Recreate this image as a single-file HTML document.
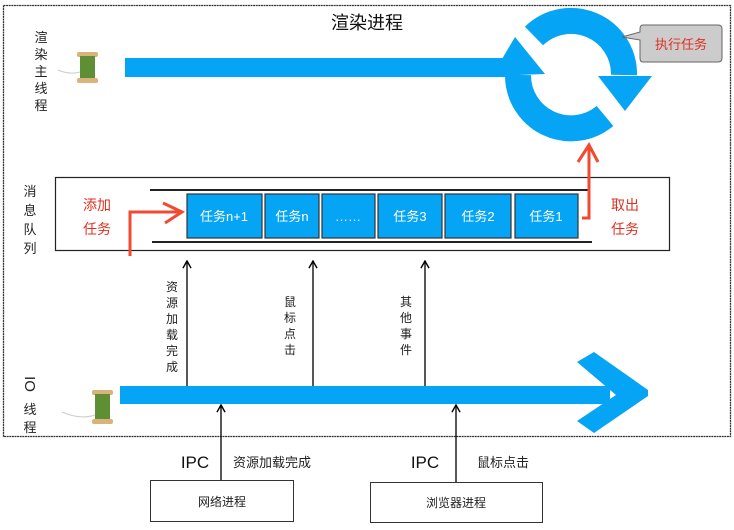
<!DOCTYPE html>
<html><head><meta charset="utf-8"><style>
html,body{margin:0;padding:0;background:#fff;}
body{width:734px;height:530px;position:relative;overflow:hidden;font-family:"Liberation Sans","Noto Sans CJK SC",sans-serif;}
</style></head><body>
<svg width="734" height="530" viewBox="0 0 734 530" xmlns="http://www.w3.org/2000/svg" style="position:absolute;left:0;top:0" font-family="Liberation Sans, Noto Sans CJK SC, sans-serif">
<defs>
<marker id="ah" viewBox="0 0 10 10" refX="9" refY="5" markerWidth="9" markerHeight="9" orient="auto" markerUnits="userSpaceOnUse"><path d="M1,0.5 L9,5 L1,9.5" fill="none" stroke="#000" stroke-width="1.6"/></marker>
</defs>
<rect x="3.5" y="5.5" width="727" height="431" fill="none" stroke="#333" stroke-width="1.3" stroke-dasharray="2,0.6"/>
<text x="367" y="29" font-size="18" text-anchor="middle" fill="#111">渲染进程</text>
<g font-size="13" fill="#222" text-anchor="middle">
<text x="41" y="42">渲</text><text x="41" y="59">染</text><text x="41" y="76">主</text><text x="41" y="93">线</text><text x="41" y="110">程</text>
<text x="30" y="196">消</text><text x="30" y="215">息</text><text x="30" y="234">队</text><text x="30" y="253">列</text>
<text x="30" y="414">线</text><text x="30" y="432">程</text>
</g>
<text x="0" y="0" font-size="15" fill="#222" text-anchor="middle" transform="translate(25,384) rotate(90)">IO</text>
<!-- spools -->
<g><rect x="77" y="52" width="21" height="5" rx="2" fill="#d9b47a"/><rect x="80" y="56" width="15" height="23" fill="#5f8f35"/><rect x="77" y="78" width="21" height="5" rx="2" fill="#d9b47a"/><path d="M80,72 Q70,75 58,70" stroke="#ccc" fill="none"/></g>
<g><rect x="92" y="390" width="21" height="5" rx="2" fill="#d9b47a"/><rect x="95" y="394" width="15" height="26" fill="#5f8f35"/><rect x="92" y="419" width="21" height="5" rx="2" fill="#d9b47a"/><path d="M95,415 Q80,420 62,412" stroke="#ccc" fill="none"/></g>
<!-- top bar -->
<rect x="125" y="58" width="395" height="19" fill="#06a4f5"/>
<!-- cycle -->
<path d="M534,36 A53,53 0 0 1 624,75" fill="none" stroke="#06a4f5" stroke-width="26"/>
<polygon points="598,76 652,76 625,111" fill="#06a4f5"/>
<path d="M605,116 A53,53 0 0 1 518,75" fill="none" stroke="#06a4f5" stroke-width="26"/>
<polygon points="492,76 545,74 515,37" fill="#06a4f5"/>
<!-- callout -->
<path d="M643,25 H718 Q722,25 722,29 V58 Q722,62 718,62 H643 Q640,62 640,58 V40 L622,37 L640,32 V29 Q640,25 643,25Z" fill="#ccc" stroke="#666" stroke-width="1"/>
<text x="681" y="49" font-size="13" fill="#e03020" text-anchor="middle">执行任务</text>
<!-- queue -->
<rect x="55.5" y="177.5" width="614" height="73" fill="none" stroke="#222" stroke-width="1.2"/>
<line x1="150" y1="190" x2="590" y2="190" stroke="#222" stroke-width="2"/>
<line x1="152" y1="242" x2="592" y2="242" stroke="#222" stroke-width="2"/>
<g fill="#06a4f5" stroke="#333" stroke-width="1.2">
<rect x="187" y="194" width="75" height="44"/><rect x="265" y="194" width="54" height="44"/><rect x="322" y="194" width="53" height="44"/><rect x="378" y="194" width="64" height="44"/><rect x="445" y="194" width="66" height="44"/><rect x="515" y="194" width="63" height="44"/>
</g>
<g font-size="13" fill="#fff" text-anchor="middle">
<text x="224" y="221">任务n+1</text><text x="292" y="221">任务n</text><text x="348" y="221">……</text><text x="410" y="221">任务3</text><text x="478" y="221">任务2</text><text x="546" y="221">任务1</text>
</g>
<g font-size="14" fill="#e03020" text-anchor="middle">
<text x="97" y="210">添加</text><text x="97" y="234">任务</text><text x="625" y="210">取出</text><text x="625" y="234">任务</text>
</g>
<path d="M130,256 V212 H180" fill="none" stroke="#f04a30" stroke-width="3"/>
<path d="M163,203 L182,212 L165,223" fill="none" stroke="#f04a30" stroke-width="3"/>
<path d="M582,218 H589 V148" fill="none" stroke="#f04a30" stroke-width="3"/>
<path d="M578,162 L589,145 L598,162" fill="none" stroke="#f04a30" stroke-width="3"/>
<!-- event arrows -->
<g stroke="#111" stroke-width="1.4">
<line x1="187" y1="386" x2="187" y2="261" marker-end="url(#ah)"/>
<line x1="313" y1="386" x2="313" y2="261" marker-end="url(#ah)"/>
<line x1="425" y1="386" x2="425" y2="261" marker-end="url(#ah)"/>
<line x1="221" y1="480" x2="221" y2="405" marker-end="url(#ah)"/>
<line x1="456" y1="482" x2="456" y2="405" marker-end="url(#ah)"/>
</g>
<g font-size="12" fill="#222" text-anchor="middle">
<text x="172" y="291">资</text><text x="172" y="307">源</text><text x="172" y="323">加</text><text x="172" y="339">载</text><text x="172" y="355">完</text><text x="172" y="371">成</text>
<text x="290" y="306">鼠</text><text x="290" y="322">标</text><text x="290" y="338">点</text><text x="290" y="354">击</text>
<text x="406" y="306">其</text><text x="406" y="322">他</text><text x="406" y="338">事</text><text x="406" y="354">件</text>
</g>
<!-- IO bar -->
<rect x="120" y="386" width="490" height="18" fill="#06a4f5"/>
<polygon points="577,362 594,352 648,390 648,396 594,433 577,421 616,395" fill="#06a4f5"/>
<!-- bottom -->
<text x="195" y="468" font-size="17" fill="#111" text-anchor="middle">IPC</text>
<text x="272" y="467" font-size="13" fill="#222" text-anchor="middle">资源加载完成</text>
<text x="425" y="468" font-size="17" fill="#111" text-anchor="middle">IPC</text>
<text x="503" y="467" font-size="13" fill="#222" text-anchor="middle">鼠标点击</text>
<rect x="150.5" y="480.5" width="143" height="41" fill="#fff" stroke="#333"/>
<rect x="370.5" y="482.5" width="172" height="40" fill="#fff" stroke="#333"/>
<text x="222" y="506" font-size="12" fill="#222" text-anchor="middle">网络进程</text>
<text x="456" y="507" font-size="12" fill="#222" text-anchor="middle">浏览器进程</text>
</svg>
</body></html>
